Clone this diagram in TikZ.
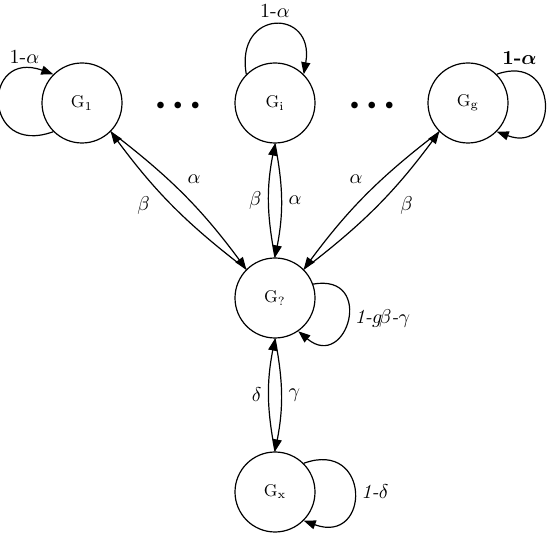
\documentclass[tikz,border=0pt]{standalone}
\usepackage{amsmath}
\usepackage{bm}
\usetikzlibrary{arrows.meta}

\begin{document}
\begin{tikzpicture}[x=0.5pt,y=0.5pt,line width=0.6pt,
    state/.style={draw,circle,minimum size=40pt,inner sep=0pt,font=\fontsize{8.5}{10}\selectfont},
    lbl/.style={font=\fontsize{10}{12}\selectfont},
    >={Triangle[length=6pt,width=4.5pt]}]
    \useasboundingbox(0,0)rectangle(550,534);
    \node[state](G1) at (82,431) {G$_1$};
    \node[state](Gi) at (275,431) {G$_\mathrm{i}$};
    \node[state](Gg) at (468,431) {G$_\mathrm{g}$};
    \node[state](Gq) at (275,236) {G$_\text{?}$};
    \node[state](Gx) at (275,42) {G$_\mathrm{x}$};
    \node(dotsA) at (178,428) {\fontsize{8}{8}\selectfont$\bullet\hspace{2.5pt}\bullet\hspace{2.5pt}\bullet$};
    \node(dotsB) at (372,428) {\fontsize{8}{8}\selectfont$\bullet\hspace{2.5pt}\bullet\hspace{2.5pt}\bullet$};
    % self loops
    \draw[->](G1.225) to[out=200,in=160,looseness=3.4] node[lbl,pos=0.84,above]{1-$\alpha$} (G1.135);
    \draw[->](Gi.135) to[out=100,in=80,looseness=3] node[lbl,above]{1-$\alpha$} (Gi.45);
    \draw[->](Gg.45) to[out=20,in=-20,looseness=3] node[lbl,pos=0.14,above]{\textbf{1-}$\bm{\alpha}$} (Gg.-45);
    \draw[->](Gq.20) to[out=10,in=-40,looseness=3.3] node[lbl,right]{\textit{1-}$g\!\beta$\textit{-}$\gamma$} (Gq.-55);
    \draw[->](Gx.45) to[out=20,in=-20,looseness=3.2] node[lbl,right]{\textit{1-}$\delta$} (Gx.-45);
    % transitions
    \draw[->](Gq.135) to[bend left=8] node[lbl,auto,pos=0.63]{$\beta$} (G1.-45);
    \draw[->](G1.-45) to[bend left=8] node[lbl,auto,pos=0.47]{$\alpha$} (Gq.135);
    \draw[->](Gq.north) to[bend left=11] node[lbl,auto]{$\beta$} (Gi.south);
    \draw[->](Gi.south) to[bend left=11] node[lbl,auto]{$\alpha$} (Gq.north);
    \draw[->](Gg.225) to[bend right=8] node[lbl,auto,swap,pos=0.47]{$\alpha$} (Gq.45);
    \draw[->](Gq.45) to[bend right=8] node[lbl,auto,swap,pos=0.63]{$\beta$} (Gg.225);
    \draw[->](Gx.north) to[bend left=11] node[lbl,auto]{$\delta$} (Gq.south);
    \draw[->](Gq.south) to[bend left=11] node[lbl,auto]{$\gamma$} (Gx.north);
\end{tikzpicture}
\end{document}
